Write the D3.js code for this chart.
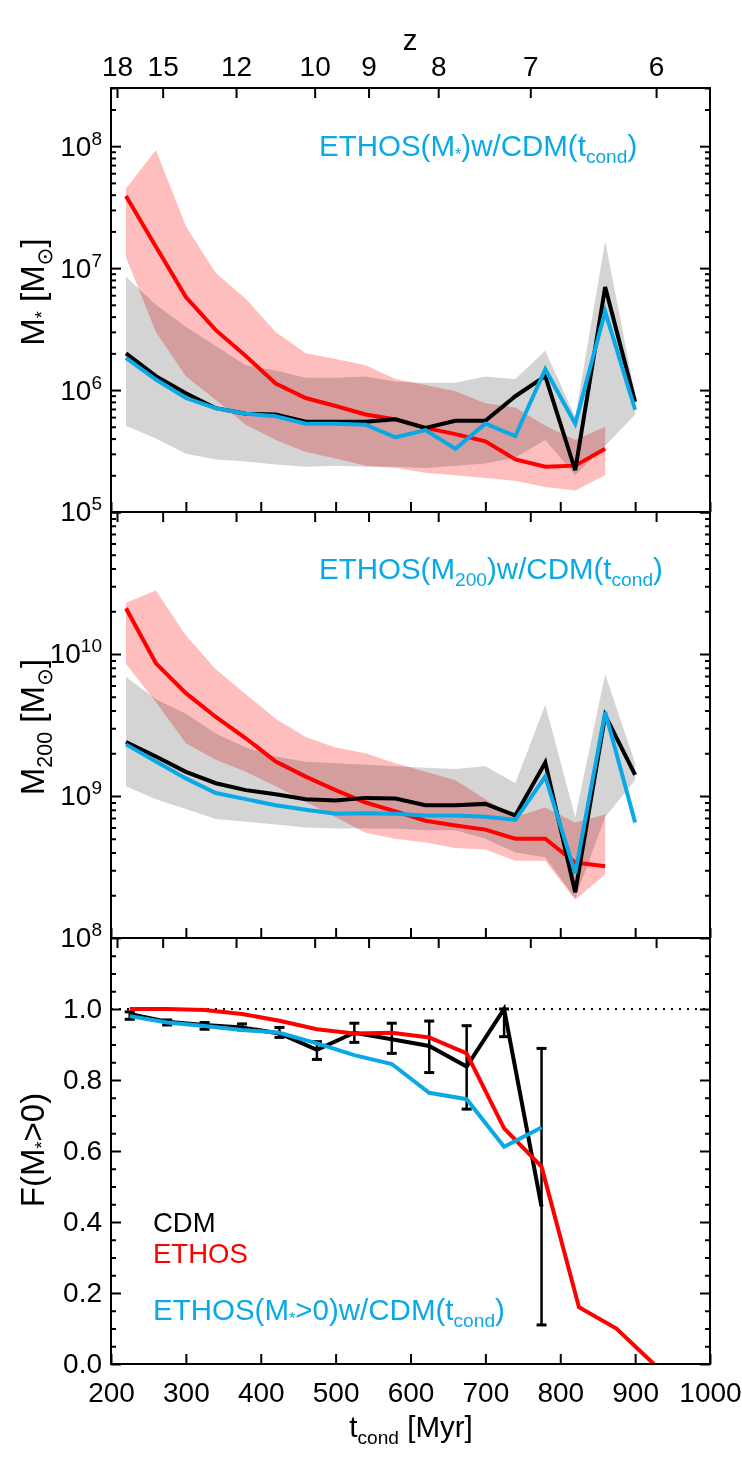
<!DOCTYPE html>
<html>
<head>
<meta charset="utf-8">
<script src="https://cdn.jsdelivr.net/npm/d3@7"></script>
<style>
    body { margin: 0; background: white; }
    text { font-family: 'Liberation Sans', Arial, 'DejaVu Sans', sans-serif; }
</style>
</head>
<body>
<script>
// x values (t_cond in Myr)
const t_mass = [220, 260, 300, 340, 380, 420, 460, 500, 540, 580, 620, 660, 700, 740, 780, 820, 860, 900]
const t_frac = [225, 275, 325, 375, 425, 475, 525, 575, 625, 675, 725, 775, 825, 875, 925]
const t_ticks = [200, 300, 400, 500, 600, 700, 800, 900, 1000]
const z_labels = [18, 15, 12, 10, 9, 8, 7, 6]
const z_tick_tcond = [208, 269, 367, 472, 544, 637, 760, 928]

// panel 1: stellar mass
const mstar_cdm = [2.0e6, 1.3e6, 9.4e5, 7.1e5, 6.4e5, 6.3e5, 5.5e5, 5.5e5, 5.5e5, 5.75e5, 4.9e5, 5.6e5, 5.6e5, 8.9e5, 1.3e6, 2.2e5, 7.0e6, 8.0e5]
const mstar_cdm_lo = [5.1e5, 4.0e5, 3.0e5, 2.7e5, 2.6e5, 2.45e5, 2.35e5, 2.4e5, 2.35e5, 2.35e5, 2.3e5, 2.4e5, 2.5e5, 2.8e5, 3.9e5, 2.0e5, 3.5e5, 6.3e5]
const mstar_cdm_hi = [8.5e6, 5.0e6, 3.3e6, 2.3e6, 1.6e6, 1.45e6, 1.26e6, 1.26e6, 1.29e6, 1.17e6, 1.15e6, 1.15e6, 1.29e6, 1.23e6, 2.1e6, 6.0e5, 1.66e7, 9.1e5]
const mstar_ethos = [3.9e7, 1.5e7, 5.8e6, 3.1e6, 1.9e6, 1.13e6, 8.6e5, 7.4e5, 6.3e5, 5.75e5, 4.9e5, 4.35e5, 3.8e5, 2.7e5, 2.35e5, 2.4e5, 3.3e5]
const mstar_ethos_lo = [1.23e7, 3.0e6, 1.3e6, 8.3e5, 5.2e5, 3.9e5, 3.1e5, 2.75e5, 2.4e5, 2.3e5, 2.1e5, 2.0e5, 1.9e5, 1.8e5, 1.6e5, 1.5e5, 2.0e5]
const mstar_ethos_hi = [4.5e7, 9.3e7, 2.2e7, 9.1e6, 5.6e6, 3.0e6, 2.0e6, 1.8e6, 1.6e6, 1.23e6, 1.1e6, 9.8e5, 7.8e5, 7.2e5, 5.1e5, 3.9e5, 5.0e5]
const mstar_ethos_wcdm = [1.84e6, 1.22e6, 8.6e5, 7.1e5, 6.4e5, 6.1e5, 5.3e5, 5.3e5, 5.2e5, 4.1e5, 4.7e5, 3.3e5, 5.3e5, 4.2e5, 1.48e6, 5.3e5, 4.4e6, 6.9e5]

// panel 2: halo mass
const m200_cdm = [2.4e9, 1.9e9, 1.48e9, 1.23e9, 1.1e9, 1.03e9, 9.5e8, 9.3e8, 9.7e8, 9.6e8, 8.6e8, 8.6e8, 8.8e8, 7.3e8, 1.72e9, 2.1e8, 3.7e9, 1.41e9]
const m200_cdm_lo = [1.17e9, 9.5e8, 8.1e8, 6.9e8, 6.6e8, 6.3e8, 6.0e8, 5.9e8, 5.9e8, 5.9e8, 5.75e8, 5.75e8, 5.0e8, 4.0e8, 3.7e8, 1.9e8, 7.1e8, 1.29e9]
const m200_cdm_hi = [6.9e9, 4.8e9, 3.8e9, 2.75e9, 2.2e9, 1.9e9, 1.74e9, 1.7e9, 1.66e9, 1.62e9, 1.58e9, 1.55e9, 1.62e9, 1.23e9, 4.4e9, 7.1e8, 7.2e9, 1.7e9]
const m200_ethos = [2.1e10, 8.6e9, 5.3e9, 3.6e9, 2.55e9, 1.75e9, 1.37e9, 1.1e9, 9.0e8, 7.8e8, 6.7e8, 6.2e8, 5.8e8, 5.0e8, 5.0e8, 3.4e8, 3.2e8]
const m200_ethos_lo = [8.5e9, 4.6e9, 2.35e9, 1.8e9, 1.48e9, 1.17e9, 9.1e8, 7.1e8, 5.5e8, 5.0e8, 4.7e8, 4.3e8, 4.2e8, 3.5e8, 3.5e8, 1.86e8, 2.8e8]
const m200_ethos_hi = [2.3e10, 2.8e10, 1.35e10, 7.8e9, 5.2e9, 3.5e9, 2.6e9, 2.2e9, 2.0e9, 1.7e9, 1.48e9, 1.29e9, 9.5e8, 7.1e8, 8.3e8, 6.5e8, 7.4e8]
const m200_ethos_wcdm = [2.31e9, 1.75e9, 1.33e9, 1.05e9, 9.5e8, 8.6e8, 8.0e8, 7.5e8, 7.55e8, 7.5e8, 7.3e8, 7.3e8, 7.15e8, 6.8e8, 1.37e9, 2.85e8, 3.9e9, 6.5e8]

// panel 3: luminous fraction
const frac_cdm = [0.986, 0.964, 0.955, 0.948, 0.931, 0.885, 0.933, 0.915, 0.896, 0.838, 1.0, 0.443]
const frac_cdm_lo = [0.971, 0.955, 0.943, 0.941, 0.920, 0.858, 0.906, 0.875, 0.821, 0.718, 0.922, 0.110]
const frac_cdm_hi = [0.992, 0.969, 0.962, 0.958, 0.948, 0.908, 0.960, 0.960, 0.966, 0.953, 1.0, 0.889]
const frac_ethos = [1.0, 1.0, 0.997, 0.986, 0.967, 0.943, 0.931, 0.933, 0.920, 0.875, 0.664, 0.556, 0.160, 0.100, 0.0]
const frac_ethos_wcdm = [0.980, 0.962, 0.952, 0.941, 0.933, 0.903, 0.870, 0.845, 0.764, 0.746, 0.612, 0.666]

const mstar_label_exps = [5, 6, 7, 8]
const m200_label_exps = [8, 9, 10]
const frac_labels = [0.0, 0.2, 0.4, 0.6, 0.8, 1.0]

// layout
const width = 742, height = 1484
const plot_left = 111, plot_right = 710
const tick_font = 28
const text_font = 29.5
const colors = {cdm: '#000000', ethos: '#ff0000', wcdm: '#0aa9e6', grey: '#d4d4d4', pink: '#ffbebe'}

const x = d3.scaleLinear().domain([200, 1000]).range([plot_left, plot_right])

const svg = d3.select('body').append('svg')
    .attr('width', width)
    .attr('height', height)

// text with subscripts, parts = [{t, sub, scale, off}]
function add_rich_text(parent, px, py, parts, color, anchor='start', size=text_font) {
    const text = parent.append('text')
        .attr('x', px)
        .attr('y', py)
        .attr('fill', color)
        .attr('text-anchor', anchor)
        .style('font-size', `${size}px`)
    let shift = 0
    parts.forEach(p => {
        const target = p.sub ? size * (p.off ?? 0.24) : 0
        const ts = text.append('tspan').text(p.t).attr('dy', target - shift)
        if(p.sub) ts.style('font-size', `${size * (p.scale ?? 0.65)}px`)
        shift = target
    })
    return text
}

function log_minor_ticks(domain) {
    const ticks = []
    for(let e = Math.floor(Math.log10(domain[0])); e <= Math.ceil(Math.log10(domain[1])); e++) {
        for(let m = 2; m <= 9; m++) {
            const v = m * Math.pow(10, e)
            if(v > domain[0] && v <= domain[1]) ticks.push(v)
        }
    }
    return ticks
}

function style_axis(g) {
    g.select('.domain').remove()
    g.selectAll('line').attr('stroke-width', 2)
    g.selectAll('text')
        .style('font-size', `${tick_font}px`)
        .style('font-family', "'Liberation Sans', Arial, sans-serif")
}

function draw_frame(g, top, bottom, y, major, minor, major_labels, label_fn, show_top, show_bottom) {
    // left ticks + labels
    g.append('g')
        .attr('transform', `translate(${plot_left},0)`)
        .call(d3.axisLeft(y).tickValues(minor).tickSize(-5).tickFormat(''))
        .call(style_axis)
    const left = g.append('g')
        .attr('transform', `translate(${plot_left},0)`)
        .call(d3.axisLeft(y).tickValues(major).tickSize(-10).tickPadding(9)
            .tickFormat(d => major_labels.includes(d) ? 'L' : ''))
        .call(style_axis)
    left.selectAll('text').each(function(d) {
        const t = d3.select(this)
        if(t.text() === '') return
        t.text('')
        label_fn(t, d)
    })
    // right ticks
    g.append('g')
        .attr('transform', `translate(${plot_right},0)`)
        .call(d3.axisRight(y).tickValues(minor).tickSize(-5).tickFormat(''))
        .call(style_axis)
    g.append('g')
        .attr('transform', `translate(${plot_right},0)`)
        .call(d3.axisRight(y).tickValues(major).tickSize(-10).tickFormat(''))
        .call(style_axis)
    // top z ticks
    g.append('g')
        .attr('transform', `translate(0,${top})`)
        .call(d3.axisTop(x).tickValues(z_tick_tcond).tickSize(-10).tickPadding(12)
            .tickFormat((d, i) => show_top ? z_labels[i] : ''))
        .call(style_axis)
    // bottom t ticks
    g.append('g')
        .attr('transform', `translate(0,${bottom})`)
        .call(d3.axisBottom(x).tickValues(t_ticks).tickSize(-10).tickPadding(18)
            .tickFormat(d => show_bottom ? d : ''))
        .call(style_axis)
    g.append('rect')
        .attr('x', plot_left)
        .attr('y', top)
        .attr('width', plot_right - plot_left)
        .attr('height', bottom - top)
        .attr('fill', 'none')
        .attr('stroke', 'black')
        .attr('stroke-width', 2)
}

function pow_label(t, v) {
    const e = Math.round(Math.log10(v))
    t.append('tspan').text('10')
    t.append('tspan').text(e).attr('dy', -11).style('font-size', '19px')
}

function draw_band(g, ts, lo, hi, y, color) {
    const area = d3.area()
        .x(d => x(d[0]))
        .y0(d => y(d[1]))
        .y1(d => y(d[2]))
    g.append('path')
        .datum(ts.slice(0, lo.length).map((t, i) => [t, lo[i], hi[i]]))
        .attr('d', area)
        .attr('fill', color)
        .style('mix-blend-mode', 'multiply')
}

function draw_line(g, ts, vals, y, color) {
    const line = d3.line().x(d => x(d[0])).y(d => y(d[1]))
    g.append('path')
        .datum(ts.slice(0, vals.length).map((t, i) => [t, vals[i]]))
        .attr('d', line)
        .attr('fill', 'none')
        .attr('stroke', color)
        .attr('stroke-width', 4)
        .attr('stroke-linejoin', 'miter')
}

function y_title(parts, cy) {
    const g = svg.append('g').attr('transform', `translate(44,${cy}) rotate(-90)`)
    add_rich_text(g, 0, 0, parts, 'black', 'middle', 33)
}

// ---- panel 1
const p1 = {top: 88, bottom: 512}
const y1 = d3.scaleLog().domain([1e5, 3e8]).range([p1.bottom, p1.top])
const g1 = svg.append('g')
draw_band(g1, t_mass, mstar_cdm_lo, mstar_cdm_hi, y1, colors.grey)
draw_band(g1, t_mass, mstar_ethos_lo, mstar_ethos_hi, y1, colors.pink)
draw_line(g1, t_mass, mstar_ethos, y1, colors.ethos)
draw_line(g1, t_mass, mstar_cdm, y1, colors.cdm)
draw_line(g1, t_mass, mstar_ethos_wcdm, y1, colors.wcdm)
draw_frame(g1, p1.top, p1.bottom, y1, [1e5, 1e6, 1e7, 1e8], log_minor_ticks(y1.domain()),
    mstar_label_exps.map(e => Math.pow(10, e)), pow_label, true, false)
add_rich_text(svg, 319, 156, [{t: 'ETHOS(M'}, {t: '*', sub: true, scale: 0.55, off: 0.12}, {t: ')w/CDM(t'}, {t: 'cond', sub: true}, {t: ')'}], colors.wcdm)

// ---- panel 2
const p2 = {top: 512, bottom: 938}
const y2 = d3.scaleLog().domain([1e8, 1e11]).range([p2.bottom, p2.top])
const g2 = svg.append('g')
draw_band(g2, t_mass, m200_cdm_lo, m200_cdm_hi, y2, colors.grey)
draw_band(g2, t_mass, m200_ethos_lo, m200_ethos_hi, y2, colors.pink)
draw_line(g2, t_mass, m200_ethos, y2, colors.ethos)
draw_line(g2, t_mass, m200_cdm, y2, colors.cdm)
draw_line(g2, t_mass, m200_ethos_wcdm, y2, colors.wcdm)
draw_frame(g2, p2.top, p2.bottom, y2, [1e8, 1e9, 1e10, 1e11], log_minor_ticks(y2.domain()),
    m200_label_exps.map(e => Math.pow(10, e)), pow_label, false, false)
add_rich_text(svg, 319, 579, [{t: 'ETHOS(M'}, {t: '200', sub: true}, {t: ')w/CDM(t'}, {t: 'cond', sub: true}, {t: ')'}], colors.wcdm)

// ---- panel 3
const p3 = {top: 938, bottom: 1364}
const y3 = d3.scaleLinear().domain([0, 1.2]).range([p3.bottom, p3.top])
const g3 = svg.append('g')
g3.append('line')
    .attr('x1', x(200)).attr('x2', x(1000))
    .attr('y1', y3(1)).attr('y2', y3(1))
    .attr('stroke', 'black')
    .attr('stroke-width', 2)
    .attr('stroke-dasharray', '2,6')
// error bars
const bars = g3.selectAll('.err')
    .data(t_frac.slice(0, frac_cdm.length).map((t, i) => ({t: t, lo: frac_cdm_lo[i], hi: frac_cdm_hi[i]})))
    .enter().append('g')
bars.append('line')
    .attr('x1', d => x(d.t)).attr('x2', d => x(d.t))
    .attr('y1', d => y3(d.lo)).attr('y2', d => y3(d.hi))
    .attr('stroke', 'black').attr('stroke-width', 2.5)
bars.selectAll('.cap')
    .data(d => [[d.t, d.lo], [d.t, d.hi]])
    .enter().append('line')
    .attr('x1', d => x(d[0]) - 5).attr('x2', d => x(d[0]) + 5)
    .attr('y1', d => y3(d[1])).attr('y2', d => y3(d[1]))
    .attr('stroke', 'black').attr('stroke-width', 3)
draw_line(g3, t_frac, frac_cdm, y3, colors.cdm)
draw_line(g3, t_frac, frac_ethos, y3, colors.ethos)
draw_line(g3, t_frac, frac_ethos_wcdm, y3, colors.wcdm)
draw_frame(g3, p3.top, p3.bottom, y3, [0, 0.2, 0.4, 0.6, 0.8, 1.0],
    d3.range(1, 24).map(i => i * 0.05).filter(v => Math.abs(v / 0.2 - Math.round(v / 0.2)) > 1e-6),
    frac_labels, (t, d) => t.text(d3.format('.1f')(d)), false, true)
add_rich_text(svg, 153, 1232, [{t: 'CDM'}], colors.cdm, 'start', 27.5)
add_rich_text(svg, 153, 1263, [{t: 'ETHOS'}], colors.ethos, 'start', 27.5)
add_rich_text(svg, 153, 1320, [{t: 'ETHOS(M'}, {t: '*', sub: true, scale: 0.55, off: 0.12}, {t: '>0)w/CDM(t'}, {t: 'cond', sub: true}, {t: ')'}], colors.wcdm)

// axis titles
y_title([{t: 'M'}, {t: '*', sub: true, scale: 0.55, off: 0.12}, {t: ' [M'}, {t: '⊙', sub: true}, {t: ']'}], 292)
y_title([{t: 'M'}, {t: '200', sub: true}, {t: ' [M'}, {t: '⊙', sub: true}, {t: ']'}], 727)
y_title([{t: 'F(M'}, {t: '*', sub: true, scale: 0.55, off: 0.12}, {t: '>0)'}], 1150)
add_rich_text(svg, 411, 1437, [{t: 't'}, {t: 'cond', sub: true}, {t: ' [Myr]'}], 'black', 'middle')
add_rich_text(svg, 410, 50, [{t: 'z'}], 'black', 'middle')
</script>
</body>
</html>
